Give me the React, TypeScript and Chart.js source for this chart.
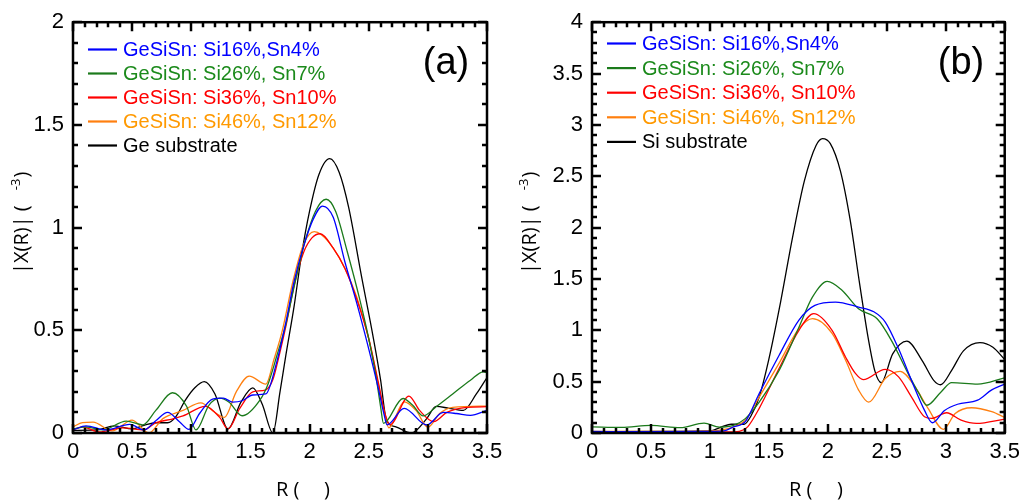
import React, { useEffect, useRef } from "react";
import { Chart, registerables } from "chart.js";

Chart.register(...registerables);

// ---------- data ----------
const LABELS_A = [
  "GeSiSn: Si16%,Sn4%",
  "GeSiSn: Si26%, Sn7%",
  "GeSiSn: Si36%, Sn10%",
  "GeSiSn: Si46%, Sn12%",
  "Ge substrate",
];
const LABELS_B = [
  "GeSiSn: Si16%,Sn4%",
  "GeSiSn: Si26%, Sn7%",
  "GeSiSn: Si36%, Sn10%",
  "GeSiSn: Si46%, Sn12%",
  "Si substrate",
];
const LINE_COLORS = ["#0000ff", "#1b7a1b", "#ff0000", "#ff7f0f", "#000000"];
const TEXT_COLORS = ["#0000ff", "#1b8a1b", "#ff0000", "#ff9900", "#000000"];

const X_TICK_VALUES = [0, 0.5, 1, 1.5, 2, 2.5, 3, 3.5];

// Panel (a)
const blueA_R = [0, 0.11, 0.28, 0.48, 0.6, 0.7, 0.8, 0.9, 0.98, 1.07, 1.18, 1.27, 1.35, 1.43, 1.52, 1.63, 1.72, 1.8, 1.87, 1.95, 2.03, 2.11, 2.2, 2.3, 2.4, 2.5, 2.58, 2.63, 2.655, 2.8, 2.99, 3.13, 3.24, 3.36, 3.5];
const blueA_V = [0.015, 0.035, 0.015, 0.042, 0.015, 0.06, 0.1, 0.055, 0.018, 0.095, 0.165, 0.17, 0.15, 0.157, 0.185, 0.19, 0.34, 0.54, 0.74, 0.91, 1.04, 1.105, 1.05, 0.83, 0.63, 0.41, 0.22, 0.09, 0.04, 0.12, 0.039, 0.1, 0.095, 0.086, 0.11];

const greenA_R = [0, 0.11, 0.25, 0.45, 0.59, 0.7, 0.84, 0.96, 1.04, 1.15, 1.24, 1.32, 1.43, 1.58, 1.65, 1.72, 1.8, 1.88, 1.96, 2.05, 2.14, 2.22, 2.32, 2.42, 2.5, 2.56, 2.6, 2.625, 2.79, 2.87, 2.96, 3.07, 3.21, 3.36, 3.47, 3.5];
const greenA_V = [0.02, 0.03, 0.015, 0.058, 0.04, 0.11, 0.196, 0.13, 0.015, 0.136, 0.17, 0.15, 0.084, 0.16, 0.24, 0.37, 0.53, 0.74, 0.93, 1.08, 1.138, 1.08, 0.88, 0.66, 0.46, 0.28, 0.13, 0.047, 0.168, 0.136, 0.083, 0.128, 0.19, 0.257, 0.298, 0.293];

const redA_R = [0, 0.08, 0.22, 0.42, 0.6, 0.7, 0.84, 0.93, 1.12, 1.24, 1.31, 1.41, 1.52, 1.63, 1.69, 1.74, 1.8, 1.87, 1.95, 2.02, 2.09, 2.2, 2.3, 2.4, 2.5, 2.58, 2.64, 2.68, 2.84, 2.93, 3.05, 3.16, 3.33, 3.5];
const redA_V = [0.015, 0.03, 0.005, 0.025, 0.015, 0.05, 0.068, 0.083, 0.13, 0.076, 0.02, 0.12, 0.2, 0.21, 0.26, 0.37, 0.52, 0.72, 0.88, 0.95, 0.97, 0.9, 0.8, 0.65, 0.46, 0.25, 0.09, 0.04, 0.18, 0.11, 0.055, 0.1, 0.125, 0.128];

const orangeA_R = [0, 0.08, 0.17, 0.33, 0.5, 0.64, 0.76, 0.93, 1.08, 1.2, 1.28, 1.38, 1.49, 1.63, 1.7, 1.77, 1.86, 1.95, 2.04, 2.1, 2.2, 2.3, 2.4, 2.5, 2.58, 2.64, 2.67, 2.8, 2.9, 3.0, 3.1, 3.21, 3.5];
const orangeA_V = [0.03, 0.05, 0.053, 0.01, 0.063, 0.0, 0.07, 0.11, 0.147, 0.1, 0.076, 0.2, 0.277, 0.238, 0.36, 0.5, 0.74, 0.92, 0.98, 0.965, 0.9, 0.8, 0.66, 0.46, 0.24, 0.08, 0.025, 0.152, 0.11, 0.028, 0.095, 0.125, 0.131];

const blackA_R = [0, 0.2, 0.35, 0.5, 0.6, 0.7, 0.8, 0.87, 0.95, 1.03, 1.11, 1.2, 1.31, 1.42, 1.52, 1.6, 1.69, 1.75, 1.8, 1.87, 1.93, 2.0, 2.08, 2.17, 2.25, 2.33, 2.44, 2.54, 2.6, 2.65, 2.73, 2.86, 2.99, 3.07, 3.18, 3.3, 3.41, 3.5];
const blackA_V = [0.013, 0.015, 0.035, 0.02, 0.037, 0.05, 0.05, 0.08, 0.16, 0.22, 0.25, 0.19, 0.02, 0.15, 0.22, 0.14, 0.0, 0.2, 0.38, 0.62, 0.86, 1.08, 1.26, 1.336, 1.27, 1.1, 0.76, 0.46, 0.26, 0.063, 0.03, 0.0, 0.07, 0.13, 0.12, 0.11, 0.19, 0.27];

// Panel (b)
const blueB_R = [0, 0.5, 1.0, 1.12, 1.2, 1.3, 1.418, 1.587, 1.755, 1.89, 2.065, 2.26, 2.39, 2.487, 2.6, 2.71, 2.82, 2.886, 2.99, 3.1, 3.27, 3.39, 3.5];
const blueB_V = [0.015, 0.012, 0.015, 0.02, 0.06, 0.11, 0.385, 0.757, 1.1, 1.243, 1.275, 1.226, 1.18, 1.08, 0.82, 0.51, 0.22, 0.1, 0.22, 0.28, 0.32, 0.42, 0.476];

const greenB_R = [0, 0.25, 0.5, 0.75, 0.95, 1.08, 1.2, 1.3, 1.418, 1.587, 1.755, 1.868, 1.995, 2.12, 2.26, 2.42, 2.54, 2.68, 2.77, 2.84, 2.96, 3.05, 3.27, 3.5];
const greenB_V = [0.06, 0.055, 0.074, 0.052, 0.097, 0.058, 0.075, 0.14, 0.3, 0.61, 1.03, 1.32, 1.476, 1.39, 1.21, 1.11, 0.9, 0.58, 0.39, 0.27, 0.4, 0.49, 0.475, 0.537];

const redB_R = [0, 0.5, 1.0, 1.2, 1.25, 1.32, 1.418, 1.587, 1.755, 1.88, 2.036, 2.15, 2.234, 2.3, 2.487, 2.6, 2.71, 2.82, 2.88, 3.007, 3.13, 3.26, 3.5];
const redB_V = [0.01, 0.01, 0.01, 0.01, 0.015, 0.06, 0.24, 0.63, 1.0, 1.162, 1.0, 0.74, 0.58, 0.52, 0.62, 0.547, 0.35, 0.158, 0.142, 0.197, 0.126, 0.094, 0.136];

const orangeB_R = [0, 0.5, 1.0, 1.1, 1.2, 1.3, 1.418, 1.587, 1.755, 1.87, 2.036, 2.15, 2.26, 2.346, 2.487, 2.613, 2.74, 2.85, 2.98, 3.08, 3.22, 3.39, 3.5];
const orangeB_V = [0.015, 0.015, 0.02, 0.03, 0.06, 0.126, 0.35, 0.68, 1.017, 1.113, 0.97, 0.71, 0.42, 0.3, 0.53, 0.6, 0.45, 0.24, 0.036, 0.19, 0.246, 0.207, 0.152];

const blackB_R = [0, 0.5, 1.0, 1.1, 1.18, 1.29, 1.35, 1.418, 1.5, 1.6, 1.7, 1.8, 1.9, 1.955, 2.02, 2.107, 2.19, 2.27, 2.346, 2.4, 2.453, 2.55, 2.67, 2.8, 2.9, 2.956, 3.05, 3.15, 3.29, 3.4, 3.5];
const blackB_V = [0.01, 0.015, 0.02, 0.06, 0.085, 0.085, 0.17, 0.35, 0.72, 1.28, 1.9, 2.45, 2.8, 2.867, 2.82, 2.55, 2.07, 1.45, 0.9, 0.6, 0.49, 0.77, 0.895, 0.705, 0.51, 0.47, 0.61, 0.8, 0.88, 0.835, 0.715];

// ---------- helpers ----------
const zip = (r: number[], v: number[]) => r.map((x, i) => ({ x, y: v[i] }));

type PanelCfg = {
  labels: string[];
  series: [number[], number[]][];
  yMax: number;
  panelLabel: string;
  plotLeft: number;
  plotRight: number;
  legendTop: number;
  legendStep: number;
  yTitleX: number;
  panelLabelX: number;
};

const TICK_FONT = { family: "'Liberation Sans', Arial, sans-serif", size: 22 };
const fmt = (v: any) => String(Number(v));

const framePlugin = {
  id: "framePlugin",
  afterDraw(chart: any, _args: any, opts: any) {
    const cfg: PanelCfg = opts.cfg;
    const { ctx, chartArea: ca, scales } = chart;
    const xs = scales.x;
    const ys = scales.y;
    ctx.save();
    ctx.strokeStyle = "#000";
    ctx.lineWidth = 2.5;
    ctx.strokeRect(ca.left, ca.top, ca.right - ca.left, ca.bottom - ca.top);
    ctx.lineWidth = 2.5;
    ctx.beginPath();
    for (let i = 0; i <= 35; i++) {
      const px = Math.round(xs.getPixelForValue(i / 10));
      const len = i % 5 === 0 ? 9 : 5;
      ctx.moveTo(px, ca.bottom);
      ctx.lineTo(px, ca.bottom - len);
      ctx.moveTo(px, ca.top);
      ctx.lineTo(px, ca.top + len);
    }
    const n = Math.round(cfg.yMax * 10);
    for (let i = 0; i <= n; i++) {
      const py = Math.round(ys.getPixelForValue(i / 10));
      const len = i % 5 === 0 ? 9 : 5;
      ctx.moveTo(ca.left, py);
      ctx.lineTo(ca.left + len, py);
      ctx.moveTo(ca.right, py);
      ctx.lineTo(ca.right - len, py);
    }
    ctx.stroke();

    // legend
    ctx.font = "20px 'Liberation Sans', Arial, sans-serif";
    ctx.textBaseline = "middle";
    ctx.textAlign = "left";
    cfg.labels.forEach((lab, i) => {
      const y = cfg.legendTop + i * cfg.legendStep;
      ctx.strokeStyle = LINE_COLORS[i];
      ctx.lineWidth = 2.2;
      ctx.beginPath();
      ctx.moveTo(ca.left + 15, y);
      ctx.lineTo(ca.left + 44, y);
      ctx.stroke();
      ctx.fillStyle = TEXT_COLORS[i];
      ctx.fillText(lab, ca.left + 50, y + 1);
    });

    // panel label
    ctx.fillStyle = "#000";
    ctx.font = "38px 'Liberation Sans', Arial, sans-serif";
    ctx.textAlign = "center";
    ctx.textBaseline = "middle";
    ctx.fillText(cfg.panelLabel, cfg.panelLabelX, 64);

    // x title
    ctx.font = "20px 'Open Sans', sans-serif";
    ctx.textAlign = "left";
    ctx.textBaseline = "alphabetic";
    ctx.fillText("R (", 276, 496);
    ctx.fillText(")", 324, 496);

    // y title (rotated)
    ctx.translate(cfg.yTitleX, 274);
    ctx.rotate(-Math.PI / 2);
    ctx.font = "20px 'Open Sans', sans-serif";
    ctx.textBaseline = "middle";
    const t1 = "|X(R)| (";
    ctx.fillText(t1, 0, 0);
    const w1 = ctx.measureText(t1).width;
    ctx.font = "13px 'Open Sans', sans-serif";
    ctx.fillText("-3", w1 + 15, -6);
    const w2 = ctx.measureText("-3").width;
    ctx.font = "20px 'Open Sans', sans-serif";
    ctx.fillText(")", w1 + 15 + w2 + 1, 0);
    ctx.restore();
  },
};

function makeConfig(cfg: PanelCfg): any {
  return {
    type: "line",
    data: {
      datasets: cfg.series.map(([r, v], i) => ({
        label: cfg.labels[i],
        data: zip(r, v),
        borderColor: LINE_COLORS[i],
        backgroundColor: LINE_COLORS[i],
        borderWidth: 1.3,
        pointRadius: 0,
        fill: false,
        cubicInterpolationMode: "monotone",
      })),
    },
    options: {
      animation: false,
      responsive: false,
      events: [],
      layout: { padding: { top: 21, right: cfg.plotRight, left: 0, bottom: 0 } },
      plugins: {
        legend: { display: false },
        tooltip: { enabled: false },
        framePlugin: { cfg },
      },
      scales: {
        x: {
          type: "linear",
          min: 0,
          max: 3.5,
          afterBuildTicks: (s: any) => {
            s.ticks = X_TICK_VALUES.map((v) => ({ value: v }));
          },
          ticks: { font: TICK_FONT, color: "#000", padding: 6, maxRotation: 0, callback: fmt },
          grid: { display: false, drawTicks: false },
          border: { display: false },
          afterFit: (s: any) => {
            s.height = 67;
          },
        },
        y: {
          type: "linear",
          min: 0,
          max: cfg.yMax,
          ticks: { stepSize: 0.5, font: TICK_FONT, color: "#000", padding: 9, callback: fmt },
          grid: { display: false, drawTicks: false },
          border: { display: false },
          afterFit: (s: any) => {
            s.width = cfg.plotLeft;
          },
        },
      },
    },
    plugins: [framePlugin],
  };
}

const PANEL_A: PanelCfg = {
  labels: LABELS_A,
  series: [
    [blueA_R, blueA_V],
    [greenA_R, greenA_V],
    [redA_R, redA_V],
    [orangeA_R, orangeA_V],
    [blackA_R, blackA_V],
  ],
  yMax: 2,
  panelLabel: "(a)",
  plotLeft: 73,
  plotRight: 26,
  legendTop: 49.5,
  legendStep: 24,
  yTitleX: 22,
  panelLabelX: 446,
};

const PANEL_B: PanelCfg = {
  labels: LABELS_B,
  series: [
    [blueB_R, blueB_V],
    [greenB_R, greenB_V],
    [redB_R, redB_V],
    [orangeB_R, orangeB_V],
    [blackB_R, blackB_V],
  ],
  yMax: 4,
  panelLabel: "(b)",
  plotLeft: 79,
  plotRight: 19,
  legendTop: 43.5,
  legendStep: 24.6,
  yTitleX: 17,
  panelLabelX: 448,
};

function Panel({ cfg, left }: { cfg: PanelCfg; left: number }) {
  const ref = useRef<HTMLCanvasElement>(null);
  useEffect(() => {
    if (!ref.current) return;
    const chart = new Chart(ref.current, makeConfig(cfg));
    return () => chart.destroy();
  }, [cfg]);
  return (
    <canvas
      ref={ref}
      width={513}
      height={500}
      style={{ position: "absolute", left, top: 0, width: 513, height: 500 }}
    />
  );
}

export default function App() {
  return (
    <div
      style={{
        position: "fixed",
        left: 0,
        top: 0,
        width: 1026,
        height: 500,
        background: "#fff",
      }}
    >
      <Panel cfg={PANEL_A} left={0} />
      <Panel cfg={PANEL_B} left={513} />
    </div>
  );
}
